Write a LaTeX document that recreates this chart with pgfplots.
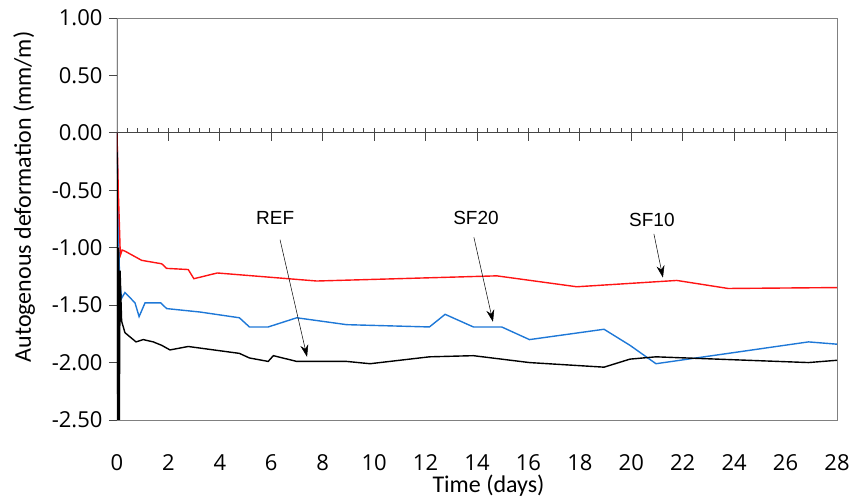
\documentclass[border=0pt]{standalone}
\usepackage{pgfplots}
\pgfplotsset{compat=1.18}
\usepackage{fontspec}
\setmainfont{Carlito}
\newfontfamily\osans{Open Sans}
\newfontfamily\arial{Liberation Sans}
\usetikzlibrary{arrows.meta}
\definecolor{sfblue}{RGB}{30,120,215}
\definecolor{sfred}{RGB}{255,20,20}
\definecolor{boxgray}{RGB}{128,128,128}
\definecolor{tickgray}{RGB}{70,70,70}
\begin{document}
\begin{tikzpicture}
\path[use as bounding box] (-117pt,-77pt) rectangle (732pt,420pt);
\begin{axis}[
  at={(0,0)}, anchor=south west,
  scale only axis, width=720pt, height=402pt,
  xmin=0, xmax=28, ymin=-2.5, ymax=1,
  xtick={0,2,...,28},
  ytick={-2.5,-2,-1.5,-1,-0.5,0,0.5,1},
  axis line style={boxgray, line width=0.8pt},
  xtick style={draw=none},
  ytick style={tickgray, line width=0.8pt},
  ytick pos=left,
  tick align=outside,
  major tick length=8pt,
  /pgf/number format/assume math mode=true,
  yticklabel style={/pgf/number format/.cd, fixed, fixed zerofill, precision=2, /tikz/.cd, xshift=-3pt},
  ticklabel style={font=\osans\fontsize{22}{26}\selectfont},
  xticklabel style={anchor=center, yshift=-35pt},
  xlabel={Time (days)},
  ylabel={Autogenous deformation (mm/m)},
  label style={font=\fontsize{24}{28}\selectfont},
  xlabel style={at={(axis description cs:0.516,-0.163)}, anchor=center},
  ylabel style={at={(axis description cs:-0.129,0.555)}, anchor=center},
  clip=true,
]
% zero line and its ticks
\draw[tickgray, line width=0.8pt] (axis cs:0,0) -- (axis cs:28,0);
\pgfplotsinvokeforeach{0.4,0.8,...,27.7}{\draw[tickgray, line width=0.8pt] (axis cs:#1,0) -- ([yshift=5pt]axis cs:#1,0);}
\pgfplotsinvokeforeach{2,4,...,26}{\draw[tickgray, line width=0.8pt] (axis cs:#1,0) -- ([yshift=-8pt]axis cs:#1,0);}
\draw[black!85, line width=1pt] (axis cs:0,-2.5) -- (axis cs:0,1);

% SF20
\addplot[sfblue, line width=1.4pt, mark=none] coordinates {
(0,0) (0.1,-1.3) (0.18,-1.44) (0.31,-1.39) (0.7,-1.48) (0.86,-1.6) (1.09,-1.48)
(1.70,-1.48) (1.93,-1.53) (3.23,-1.56) (4.76,-1.61) (5.15,-1.69) (5.88,-1.69)
(6.99,-1.61) (8.93,-1.67) (12.15,-1.69) (12.76,-1.58) (13.86,-1.69) (14.96,-1.69)
(16.04,-1.80) (18.94,-1.71) (19.95,-1.85) (20.96,-2.01) (26.89,-1.82) (28,-1.84)
};
% SF10
\addplot[sfred, line width=1.4pt, mark=none] coordinates {
(0,0) (0.05,-0.5) (0.09,-0.78) (0.12,-1.0) (0.14,-1.06) (0.2,-1.02) (0.31,-1.03)
(0.96,-1.11) (1.74,-1.14) (1.93,-1.18) (2.77,-1.19) (2.99,-1.27) (3.9,-1.22)
(7.77,-1.29) (14.77,-1.245) (17.88,-1.34) (21.77,-1.285) (23.77,-1.355) (28,-1.347)
};
% REF
\addplot[black, line width=1.4pt, mark=none] coordinates {
(0,0) (0.03,-2.5) (0.06,-1.0) (0.09,-2.5) (0.12,-1.2) (0.18,-1.64) (0.31,-1.74)
(0.74,-1.82) (1.02,-1.80) (1.41,-1.82) (1.74,-1.85) (2.06,-1.89) (2.77,-1.86)
(4.76,-1.92) (5.15,-1.96) (5.88,-1.99) (6.08,-1.94) (6.99,-1.99) (8.93,-1.99)
(9.84,-2.01) (12.15,-1.95) (13.86,-1.94) (16.04,-2.0) (18.94,-2.04) (19.95,-1.97)
(20.96,-1.95) (26.89,-2.0) (28,-1.98)
};

% annotations
\node[font=\arial\fontsize{19}{22}\selectfont] at (axis cs:6.15,-0.74) {REF};
\node[font=\arial\fontsize{19}{22}\selectfont] at (axis cs:13.96,-0.74) {SF20};
\node[font=\arial\fontsize{19}{22}\selectfont] at (axis cs:20.8,-0.76) {SF10};
\draw[black, line width=0.5pt, -{Stealth[length=12pt, width=8pt]}] (axis cs:6.34,-0.93) -- (axis cs:7.39,-1.95);
\draw[black, line width=0.5pt, -{Stealth[length=12pt, width=8pt]}] (axis cs:13.88,-0.91) -- (axis cs:14.62,-1.645);
\draw[black, line width=0.5pt, -{Stealth[length=12pt, width=8pt]}] (axis cs:20.88,-0.88) -- (axis cs:21.23,-1.26);
\end{axis}
\end{tikzpicture}
\end{document}
